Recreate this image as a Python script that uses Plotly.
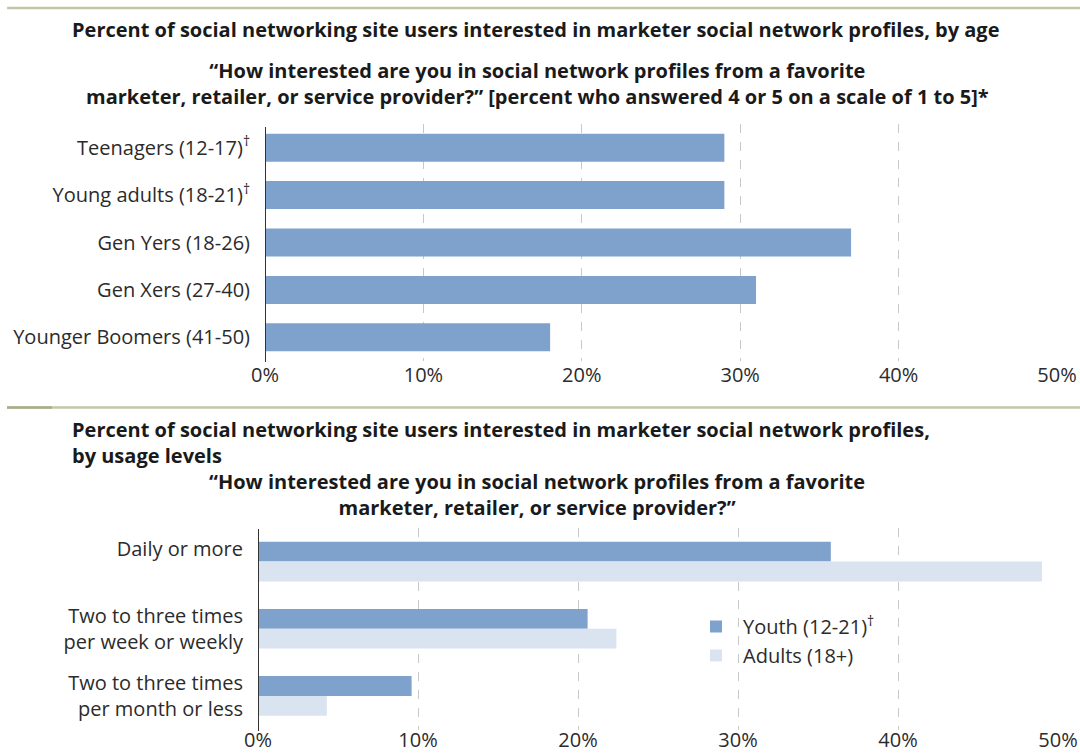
import plotly.graph_objects as go

# ---- data ----
age_groups = ["Teenagers (12-17)<sup>†</sup>", "Young adults (18-21)<sup>†</sup>",
              "Gen Yers (18-26)", "Gen Xers (27-40)", "Younger Boomers (41-50)"]
age_values = [29, 29, 37, 31, 18]

usage_levels = ["Daily or more<br>\u00a0", "Two to three times<br>per week or weekly",
                "Two to three times<br>per month or less"]
youth_values = [35.8, 20.6, 9.6]
adult_values = [49.0, 22.4, 4.3]

x_ticks = [0, 10, 20, 30, 40, 50]
x_ticktext = ["0%", "10%", "20%", "30%", "40%", "50%"]

# ---- style ----
FONT = "Open Sans"
TXT = "#2b2b2b"
TTL = "#1a1a1a"
YOUTH = "#7fa2cc"
ADULT = "#d9e4f0"
W, H = 1080, 753

def px_x(p):
    return p / W

def px_y(p):
    return 1 - p / H

fig = go.Figure()

fig.add_trace(go.Bar(x=age_values, y=age_groups, orientation="h",
                     marker=dict(color=YOUTH, line=dict(width=0)),
                     xaxis="x", yaxis="y", showlegend=False, hoverinfo="x+y"))

fig.add_trace(go.Bar(x=youth_values, y=usage_levels, orientation="h",
                     name="Youth (12-21)<sup>†</sup>", legendgroup="youth",
                     marker=dict(color=YOUTH, line=dict(width=0)),
                     xaxis="x2", yaxis="y2"))
fig.add_trace(go.Bar(x=adult_values, y=usage_levels, orientation="h",
                     name="Adults (18+)", legendgroup="adults",
                     marker=dict(color=ADULT, line=dict(width=0)),
                     xaxis="x2", yaxis="y2"))

xaxis_common = dict(range=[0, 50], tickvals=x_ticks, ticktext=x_ticktext,
                    showgrid=True, gridcolor="#c8c8c8", griddash="dash", gridwidth=1,
                    zeroline=False, showline=False, ticks="", automargin=False,
                    tickfont=dict(family=FONT, size=20, color=TXT), fixedrange=True)
yaxis_common = dict(autorange="reversed", showgrid=False, zeroline=False,
                    showline=False, ticks="", ticklabelstandoff=14, automargin=False,
                    tickfont=dict(family=FONT, size=20, color=TXT), fixedrange=True)

fig.update_layout(
    width=W, height=H,
    margin=dict(l=0, r=0, t=0, b=0),
    paper_bgcolor="white", plot_bgcolor="white",
    barmode="group", bargap=0.41, bargroupgap=0,
    font=dict(family=FONT, color=TXT),
    xaxis=dict(domain=[px_x(265), px_x(1057)], anchor="y", **xaxis_common),
    yaxis=dict(domain=[px_y(361), px_y(124)], anchor="x", **yaxis_common),
    xaxis2=dict(domain=[px_x(258), px_x(1058)], anchor="y2", ticklabelstandoff=-4,
                **xaxis_common),
    yaxis2=dict(domain=[px_y(729.5), px_y(528)], anchor="x2", **yaxis_common),
    legend=dict(x=px_x(689), y=px_y(607), xanchor="left", yanchor="top",
                font=dict(family=FONT, size=20, color=TXT), itemwidth=44,
                bgcolor="rgba(0,0,0,0)", traceorder="normal", tracegroupgap=6),
)

# axis base lines at 0%
fig.add_shape(type="line", xref="x", yref="paper", x0=0, x1=0,
              y0=px_y(362), y1=px_y(127), line=dict(color="#333333", width=2))
fig.add_shape(type="line", xref="x2", yref="paper", x0=0, x1=0,
              y0=px_y(731), y1=px_y(529), line=dict(color="#333333", width=2))

# horizontal rules
fig.add_shape(type="line", xref="paper", yref="paper", x0=px_x(7), x1=1,
              y0=px_y(8), y1=px_y(8), line=dict(color="#c3c6a7", width=2.5))
fig.add_shape(type="line", xref="paper", yref="paper", x0=px_x(7), x1=1,
              y0=px_y(407.5), y1=px_y(407.5), line=dict(color="#c3c6a7", width=2.5))
fig.add_shape(type="line", xref="paper", yref="paper", x0=px_x(7), x1=px_x(52),
              y0=px_y(407.5), y1=px_y(407.5), line=dict(color="#a9ae88", width=2.5))

TF = dict(family=FONT, size=20, color=TTL, weight="bold")

title_blocks = [
    ("Percent of social networking site users interested in marketer social network profiles, by age",
     70, 30, "left"),
    ("“How interested are you in social network profiles from a favorite<br>"
     "marketer, retailer, or service provider?” [percent who answered 4 or 5 on a scale of 1 to 5]*",
     537, 83.5, "center"),
    ("Percent of social networking site users interested in marketer social network profiles,<br>"
     "by usage levels", 70, 442.5, "left"),
    ("“How interested are you in social network profiles from a favorite<br>"
     "marketer, retailer, or service provider?”", 537, 494.5, "center"),
]
for text, xp, yp, anchor in title_blocks:
    fig.add_annotation(text=text, xref="paper", yref="paper", x=px_x(xp), y=px_y(yp),
                       xanchor=anchor, yanchor="middle", align=anchor,
                       showarrow=False, font=TF)

fig.write_html("out.html")
